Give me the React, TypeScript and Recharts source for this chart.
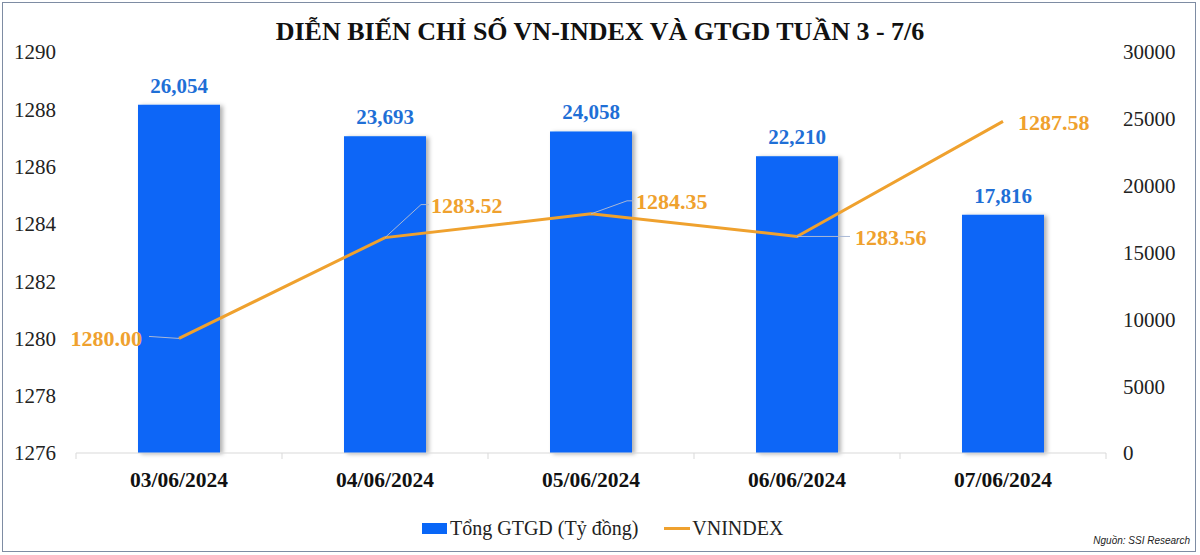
import React from 'react';
import { ComposedChart, Bar, Line, XAxis, YAxis, LabelList } from 'recharts';

const categories = ['03/06/2024', '04/06/2024', '05/06/2024', '06/06/2024', '07/06/2024'];
const gtgdValues = [26054, 23693, 24058, 22210, 17816];
const vnindexValues = [1280.0, 1283.52, 1284.35, 1283.56, 1287.58];
const leftTicks = [1276, 1278, 1280, 1282, 1284, 1286, 1288, 1290];
const rightTicks = [0, 5000, 10000, 15000, 20000, 25000, 30000];

const data = categories.map((c, i) => ({ date: c, gtgd: gtgdValues[i], vnindex: vnindexValues[i] }));

// style: placement of the line's value labels relative to each point
const lineLabelStyle = [
  { anchor: 'end', dx: -37, dy: 0, leader: [[-30, -2], [0, 0]] },
  { anchor: 'start', dx: 46, dy: -32, leader: [[0, 0], [36, -33], [44, -33]] },
  { anchor: 'start', dx: 45, dy: -13, leader: [[0, 0], [36, -13], [43, -13]] },
  { anchor: 'start', dx: 58, dy: 1, leader: [[0, 0], [53, 0]] },
  { anchor: 'start', dx: 15, dy: 1, leader: [] as number[][] },
];

const SERIF = '"Liberation Serif", "Times New Roman", serif';
const BAR_COLOR = '#0866F7';
const LINE_COLOR = '#EFA12E';
const BAR_LABEL_COLOR = '#1F6FD6';

const fmtThousands = (v: number) => v.toLocaleString('en-US');

const LineLabel = (props: any) => {
  const { x, y, value, index } = props;
  const s = lineLabelStyle[index];
  if (!s) return null;
  const pts = s.leader.map(([a, b]) => `${x + a},${y + b}`).join(' ');
  return (
    <g>
      {s.leader.length > 0 && (
        <polyline points={pts} fill="none" stroke="#A9B8D6" strokeWidth={1} />
      )}
      <text
        x={x + s.dx}
        y={y + s.dy}
        dy="0.35em"
        textAnchor={s.anchor as any}
        fontFamily={SERIF}
        fontWeight="bold"
        fontSize={22}
        fill={LINE_COLOR}
      >
        {Number(value).toFixed(2)}
      </text>
    </g>
  );
};

const CategoryTick = (props: any) => {
  const { x, y, payload, index, visibleTicksCount, width } = props;
  const half = payload && typeof payload.offset === 'number' && payload.offset > 0
    ? payload.offset
    : width / visibleTicksCount / 2;
  const isLast = index === visibleTicksCount - 1;
  return (
    <g>
      <line x1={x - half} x2={x - half} y1={y} y2={y + 6} stroke="#D9D9D9" strokeWidth={1} />
      {isLast && <line x1={x + half} x2={x + half} y1={y} y2={y + 6} stroke="#D9D9D9" strokeWidth={1} />}
      <text
        x={x}
        y={y + 19}
        dy="0.71em"
        textAnchor="middle"
        fontFamily={SERIF}
        fontWeight="bold"
        fontSize={21.5}
        fill="#111"
      >
        {payload.value}
      </text>
    </g>
  );
};

export default function App() {
  return (
    <div
      style={{
        position: 'absolute',
        left: 0,
        top: 0,
        width: 1200,
        height: 555,
        background: '#fff',
        overflow: 'hidden',
      }}
    >
      <div
        style={{
          position: 'absolute',
          left: 2,
          top: 2,
          width: 1192,
          height: 548,
          border: '1.5px solid #7E8CA3',
        }}
      />
      <div
        style={{
          position: 'absolute',
          left: 0,
          top: 16,
          width: 1200,
          textAlign: 'center',
          fontFamily: SERIF,
          fontWeight: 'bold',
          fontSize: 26,
          color: '#111',
          lineHeight: '32px',
        }}
      >
        DIỄN BIẾN CHỈ SỐ VN-INDEX VÀ GTGD TUẦN 3 - 7/6
      </div>
      <div style={{ position: 'absolute', left: 0, top: 0 }}>
        <ComposedChart
          width={1200}
          height={555}
          data={data}
          margin={{ top: 52, right: 0, bottom: 0, left: 0 }}
        >
          <defs>
            <filter id="barShadow" x="-10%" y="-10%" width="130%" height="120%">
              <feDropShadow dx="3" dy="1" stdDeviation="2" floodColor="#000" floodOpacity="0.3" />
            </filter>
          </defs>
          <XAxis
            dataKey="date"
            height={102}
            axisLine={{ stroke: '#D9D9D9', strokeWidth: 1 }}
            tickLine={false}
            tickSize={0}
            tickMargin={0}
            tick={<CategoryTick />}
            interval={0}
          />
          <YAxis
            yAxisId="left"
            orientation="left"
            width={76}
            domain={[1276, 1290]}
            ticks={leftTicks}
            axisLine={false}
            tickLine={false}
            tickSize={0}
            tickMargin={20}
            tick={{ fontFamily: SERIF, fontSize: 21, fill: '#222' }}
            interval={0}
          />
          <YAxis
            yAxisId="right"
            orientation="right"
            width={94}
            domain={[0, 30000]}
            ticks={rightTicks}
            axisLine={false}
            tickLine={false}
            tickSize={0}
            tickMargin={17}
            tick={{ fontFamily: SERIF, fontSize: 21, fill: '#222' }}
            interval={0}
          />
          <Bar
            yAxisId="right"
            dataKey="gtgd"
            fill={BAR_COLOR}
            barSize={82}
            isAnimationActive={false}
            filter="url(#barShadow)"
          >
            <LabelList
              dataKey="gtgd"
              position="top"
              offset={12}
              formatter={(v: any) => fmtThousands(Number(v))}
              style={{ fontFamily: SERIF, fontWeight: 'bold', fontSize: 21, fill: BAR_LABEL_COLOR }}
            />
          </Bar>
          <Line
            yAxisId="left"
            dataKey="vnindex"
            stroke={LINE_COLOR}
            strokeWidth={3}
            dot={false}
            activeDot={false}
            isAnimationActive={false}
          >
            <LabelList dataKey="vnindex" content={<LineLabel />} />
          </Line>
        </ComposedChart>
      </div>
      <div
        style={{
          position: 'absolute',
          left: 422,
          top: 515,
          display: 'flex',
          alignItems: 'center',
          fontFamily: SERIF,
          fontSize: 20,
          color: '#222',
          lineHeight: '26px',
        }}
      >
        <span style={{ display: 'inline-block', width: 25, height: 11, background: BAR_COLOR, marginRight: 3 }} />
        <span>Tổng GTGD (Tỷ đồng)</span>
        <span style={{ display: 'inline-block', width: 26, height: 3, background: LINE_COLOR, marginLeft: 26, marginRight: 2 }} />
        <span>VNINDEX</span>
      </div>
      <div
        style={{
          position: 'absolute',
          right: 10,
          top: 535,
          fontFamily: '"Liberation Sans", Arial, sans-serif',
          fontStyle: 'italic',
          fontSize: 10,
          color: '#222',
        }}
      >
        Nguồn: SSI Research
      </div>
    </div>
  );
}
